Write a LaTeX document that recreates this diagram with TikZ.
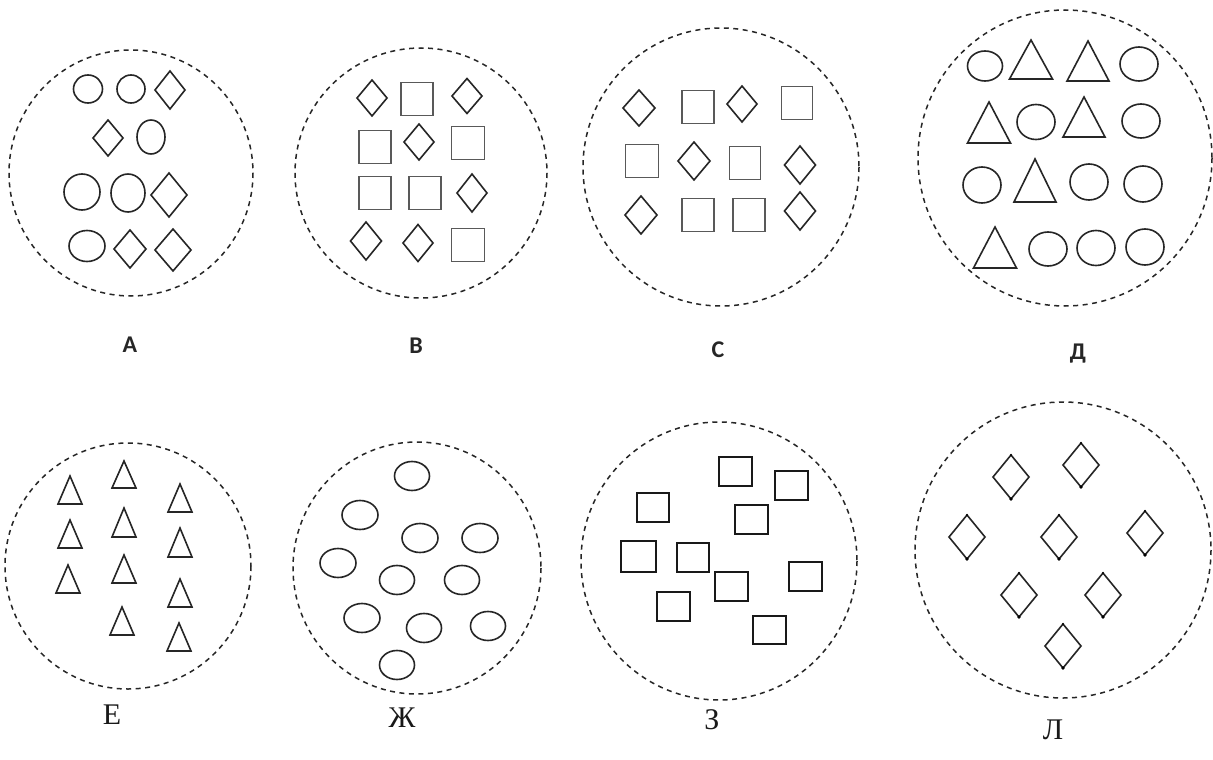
\documentclass[tikz,border=0pt]{standalone}
\usepackage{fontspec}
\setmainfont{Liberation Serif}
\newfontfamily\labsans{Carlito}
\tikzset{
  dcirc/.style={draw=black!85, line width=1.5pt, dash pattern=on 5pt off 4.5pt},
  shp/.style={draw=black!85, line width=1.6pt, line join=miter},
  sqs/.style={draw=black!65, line width=1.6pt},
  thk/.style={draw=black!90, line width=2pt},
  toplab/.style={font=\labsans\bfseries\fontsize{24}{30}\selectfont, text=black!85, inner sep=0pt},
  botlab/.style={font=\fontsize{30}{36}\selectfont, text=black!90, inner sep=0pt}
}
\newcommand\myell[5][shp]{\draw[#1] (#2,#3) ellipse [x radius=#4, y radius=#5];}
\newcommand\mydia[5][shp]{\draw[#1] ({#2-#4},#3) -- (#2,{#3-#5}) -- ({#2+#4},#3) -- (#2,{#3+#5}) -- cycle;}
\newcommand\mytri[5][shp]{\draw[#1] (#2,#3) -- ({#2+#4},#5) -- ({#2-#4},#5) -- cycle;}
\newcommand\mysq[5][sqs]{\draw[#1] ({#2-#4/2},{#3-#5/2}) rectangle ({#2+#4/2},{#3+#5/2});}
\newcommand\myrect[5][thk]{\draw[#1] (#2,#3) rectangle (#4,#5);}
\newcommand\dotdia[2]{\mydia[shp]{#1}{#2}{18}{22}\fill[black] (#1,{#2+22}) circle [radius=1.8];\fill[black] (#1,{#2-22}) circle [radius=1.2];}
\begin{document}
\begin{tikzpicture}[x=1pt,y=-1pt]
\useasboundingbox (0,0) rectangle (1213,760);
\fill[white] (0,0) rectangle (1213,760);
% ---------- A ----------
\draw[dcirc] (131,173) ellipse [x radius=122, y radius=123];
\myell{88}{89}{14.5}{14}
\myell{131}{89}{14}{14}
\mydia{170}{90}{15}{19}
\mydia{108}{138}{15}{18}
\myell{151}{137}{14}{17}
\myell{82}{192}{18}{18}
\myell{128}{193}{17}{19}
\mydia{169}{195}{18}{22}
\myell{87}{246}{18}{15.5}
\mydia{130}{249}{16}{19}
\mydia{173}{250}{18}{21}
\node[toplab] (la) at (130,345) {А};
% ---------- B ----------
\draw[dcirc] (421,173) ellipse [x radius=126, y radius=125];
\mydia{372}{98}{15}{18}
\mysq{417}{99}{32}{33}
\mydia{467}{96}{15}{17.5}
\mysq{375}{147}{32}{33}
\mydia{419}{142}{15}{18}
\mysq{468}{143}{33}{33}
\mysq{375}{193}{32}{33}
\mysq{425}{193}{32}{33}
\mydia{472}{193}{15}{19}
\mydia{366}{241}{15.5}{19}
\mydia{418}{243}{15}{18.5}
\mysq{468}{245}{33}{33}
\node[toplab] (lb) at (416,346) {В};
% ---------- C ----------
\draw[dcirc] (721,167) ellipse [x radius=138, y radius=139];
\mydia{639}{108}{16}{18}
\mysq{698}{107}{32}{33}
\mydia{742}{104}{15}{18}
\mysq{797}{103}{31}{33}
\mysq{642}{161}{33}{33}
\mydia{694}{161}{16}{19}
\mysq{745}{163}{31}{33}
\mydia{800}{165}{15.5}{19}
\mydia{641}{215}{16}{19}
\mysq{698}{215}{32}{33}
\mysq{749}{215}{32}{33}
\mydia{800}{211}{15.5}{19}
\node[toplab] (lc) at (718,350) {С};
% ---------- D ----------
\draw[dcirc] (1065,158) ellipse [x radius=147, y radius=148];
\myell{985}{66}{17.5}{15}
\mytri{1031}{40}{21.5}{79}
\mytri{1088}{41}{21}{81}
\myell{1139}{64}{19}{17}
\mytri{989}{102}{21.5}{143}
\myell{1036}{122}{19}{17.5}
\mytri{1084}{97}{21}{137}
\myell{1141}{121}{19}{17}
\myell{982}{185}{19}{18}
\mytri{1035}{159}{21}{202}
\myell{1089}{182}{19}{18}
\myell{1143}{184}{19}{18}
\mytri{995}{227}{21.5}{268}
\myell{1048}{249}{19}{17}
\myell{1096}{248}{19}{17.5}
\myell{1145}{247}{19}{18}
\node[toplab, anchor=base] (ld) at (1078,359) {Д};
% ---------- E ----------
\draw[dcirc] (128,566) ellipse [x radius=123, y radius=123];
\mytri{70}{476}{12}{504}
\mytri{70}{520}{12}{548}
\mytri{68}{565}{12}{593}
\mytri{124}{461}{12}{488}
\mytri{124}{508}{12}{537}
\mytri{124}{555}{12}{583}
\mytri{122}{607}{12}{635}
\mytri{180}{484}{12}{512}
\mytri{180}{528}{12}{557}
\mytri{180}{579}{12}{607}
\mytri{179}{623}{12}{651}
\node[botlab] (le) at (112,715) {Е};
% ---------- Zh ----------
\draw[dcirc] (417,568) ellipse [x radius=124, y radius=126];
\myell{412}{476}{17.5}{14.5}
\myell{360}{515}{18}{14.5}
\myell{420}{538}{18}{14.5}
\myell{480}{538}{18}{14.5}
\myell{338}{563}{18}{14.5}
\myell{397}{580}{17.5}{14.5}
\myell{462}{580}{17.5}{14.5}
\myell{362}{618}{18}{14.5}
\myell{424}{628}{17.5}{14.5}
\myell{488}{626}{17.5}{14.5}
\myell{397}{665}{17.5}{14.5}
\node[botlab] (lzh) at (402,718) {Ж};
% ---------- Z ----------
\draw[dcirc] (719,561) ellipse [x radius=138, y radius=139];
\myrect{719}{457}{752}{486}
\myrect{775}{471}{808}{500}
\myrect{637}{493}{669}{522}
\myrect{735}{505}{768}{534}
\myrect{621}{541}{656}{572}
\myrect{677}{543}{709}{572}
\myrect{715}{572}{748}{601}
\myrect{789}{562}{822}{591}
\myrect{657}{592}{690}{621}
\myrect{753}{616}{786}{644}
\node[botlab] (lz) at (712,720) {З};
% ---------- L ----------
\draw[dcirc] (1063,550) ellipse [x radius=148, y radius=148];
\dotdia{1011}{477}
\dotdia{1081}{465}
\dotdia{967}{537}
\dotdia{1059}{537}
\dotdia{1145}{533}
\dotdia{1019}{595}
\dotdia{1103}{595}
\dotdia{1063}{646}
\node[botlab] (ll) at (1053,730) {Л};
\end{tikzpicture}
\end{document}
